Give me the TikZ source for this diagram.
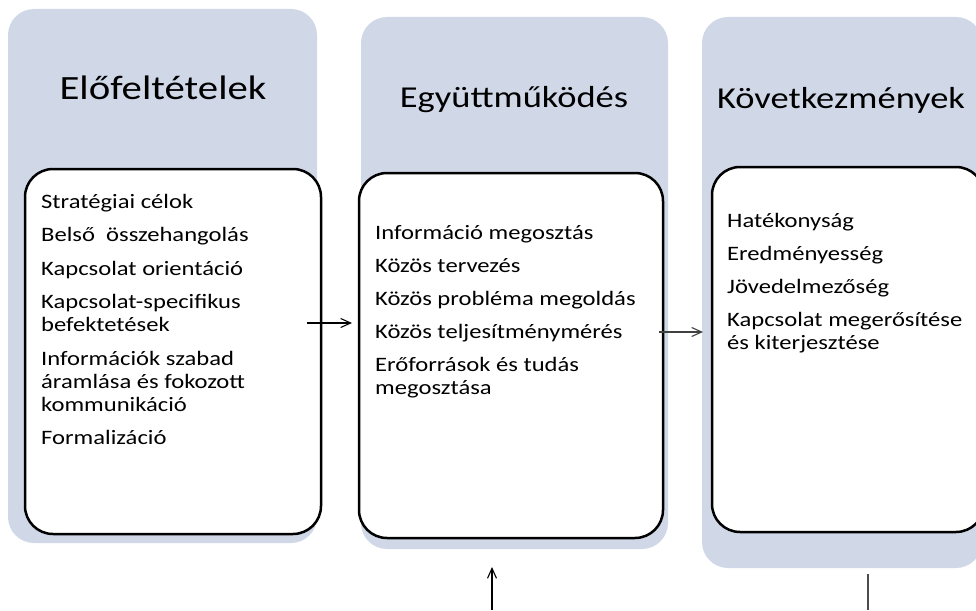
\documentclass[tikz,border=0pt]{standalone}
\usepackage{fontspec}
\setmainfont{Carlito}[FakeStretch=1.2]
\usetikzlibrary{arrows.meta}
\definecolor{panelfill}{RGB}{208,216,232}
\tikzset{
  panel/.style={fill=panelfill, draw=none, rounded corners=26pt, inner sep=0pt},
  itembox/.style={fill=white, draw=black, line width=2.5pt, rounded corners=28pt, inner sep=0pt},
  title/.style={anchor=base, inner sep=0pt, font=\fontsize{30.4}{36}\selectfont},
  item/.style={anchor=base west, inner sep=0pt, font=\fontsize{20.5}{23.3}\selectfont},
  arr/.style={line width=1.1pt, -{Straight Barb[length=10pt,width=9pt]}},
}
\begin{document}
\begin{tikzpicture}[x=1pt,y=-1pt]
\useasboundingbox (0,0) rectangle (976,610);
% panels
\node[panel, minimum width=309pt, minimum height=534pt] (p1) at (162.5,276) {};
\node[panel, minimum width=307pt, minimum height=532pt] (p2) at (514.5,283) {};
\node[panel, minimum width=280pt, minimum height=551pt] (p3) at (842,292.5) {};
% titles
\node[title, font=\fontsize{34}{40}\selectfont] (t1) at (163,99) {Előfeltételek};
\node[title] (t2) at (514,107) {Együttműködés};
\node[title] (t3) at (841,108) {Következmények};
% inner boxes
\node[itembox, minimum width=296pt, minimum height=365pt] (b1) at (173,351.5) {};
\node[itembox, minimum width=304pt, minimum height=365pt] (b2) at (511,355.5) {};
\node[itembox, minimum width=272pt, minimum height=365pt] (b3) at (848,349.5) {};
% box 1 text
\foreach \yy/\txt [count=\i] in {
  208.5/Stratégiai célok,
  241.8/Belső\ \ összehangolás,
  275.1/Kapcsolat orientáció,
  308.4/Kapcsolat-specifikus,
  331.7/befektetések,
  365/Információk szabad,
  388.3/áramlása és fokozott,
  411.6/kommunikáció,
  444.9/Formalizáció}
  \node[item] (a\i) at (41,\yy) {\txt};
% box 2 text
\foreach \yy/\txt [count=\i] in {
  239/Információ megosztás,
  272/Közös tervezés,
  305/Közös probléma megoldás,
  338/Közös teljesítménymérés,
  371/Erőforrások és tudás,
  394.3/megosztása}
  \node[item] (c\i) at (375,\yy) {\txt};
% box 3 text
\foreach \yy/\txt [count=\i] in {
  227/Hatékonyság,
  260/Eredményesség,
  293/Jövedelmezőség,
  326/Kapcsolat megerősítése,
  349.3/és kiterjesztése}
  \node[item] (d\i) at (727,\yy) {\txt};
% connectors
\coordinate (s1) at (307,323);
\coordinate (e1) at (352,323);
\coordinate (s2) at (659,332);
\coordinate (e2) at (703,332);
\coordinate (s3) at (492,610);
\coordinate (e3) at (492,567);
\coordinate (s4) at (868,574);
\coordinate (e4) at (868,610);
\draw[arr] (s1) -- (e1);
\draw[arr, draw=black!75] (s2) -- (e2);
\draw[arr] (s3) -- (e3);
\draw[line width=1.1pt, draw=black!70] (s4) -- (e4);
\end{tikzpicture}
\end{document}
